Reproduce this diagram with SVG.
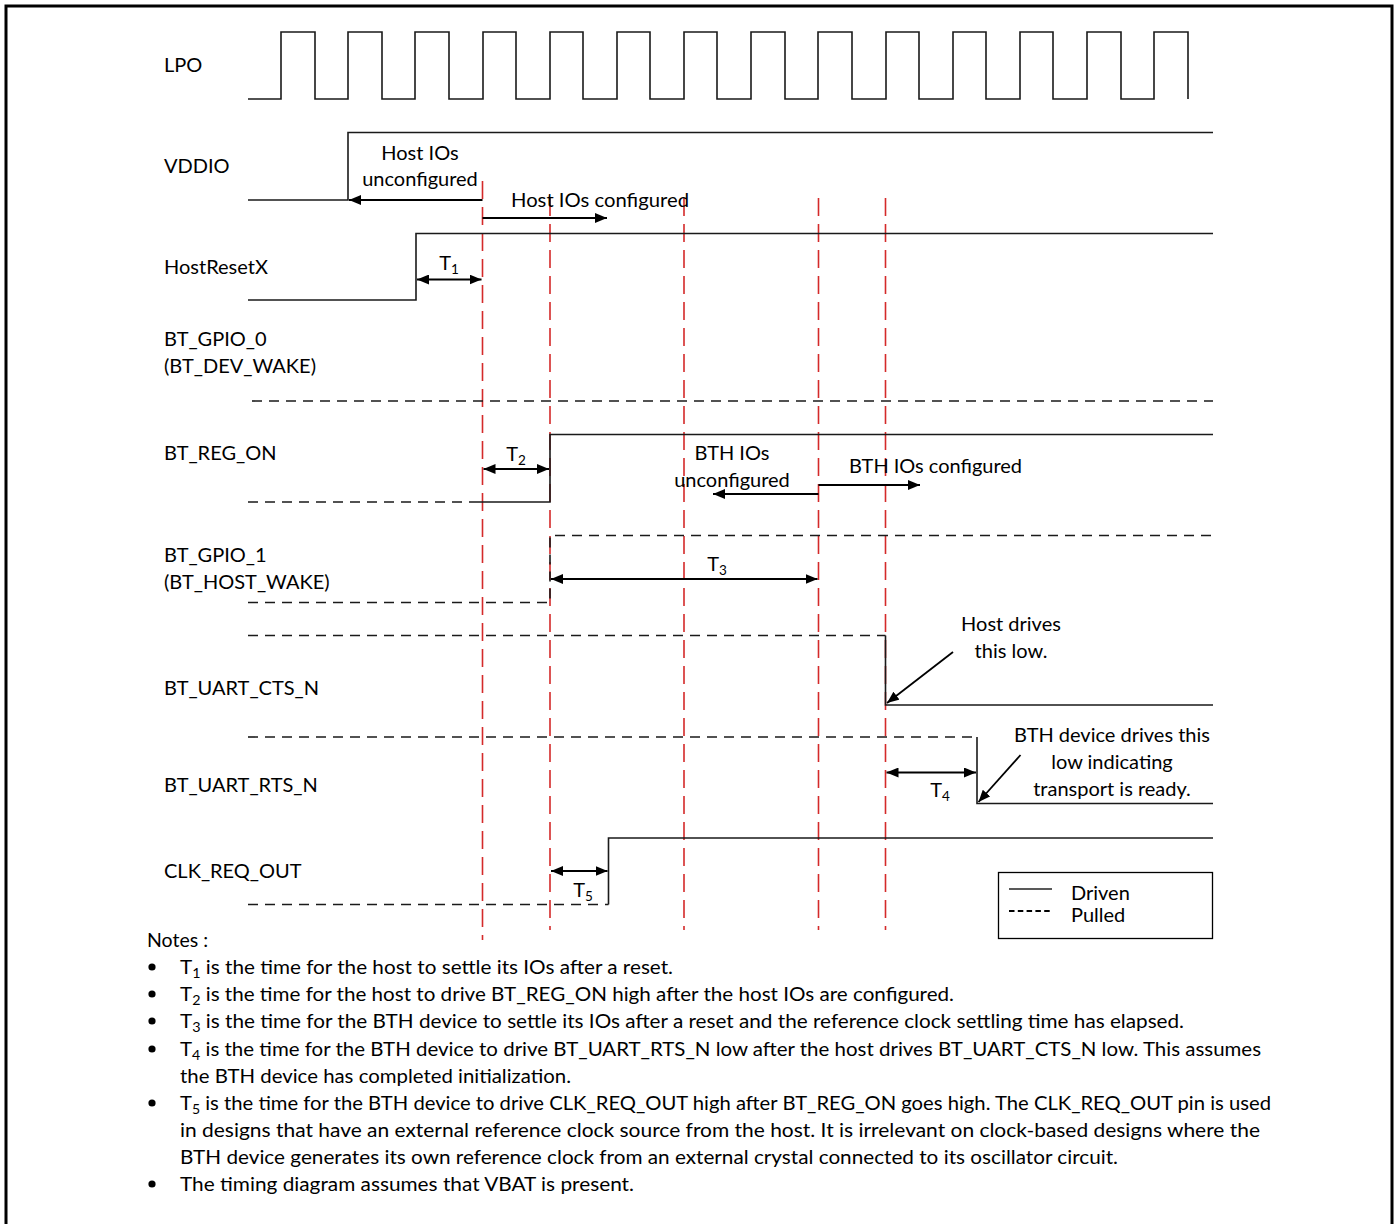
<svg xmlns="http://www.w3.org/2000/svg" width="1395" height="1224" viewBox="0 0 1395 1224">
<defs>
<marker id="ah" viewBox="0 0 12 10" refX="12" refY="5" markerWidth="12" markerHeight="10" markerUnits="userSpaceOnUse" orient="auto-start-reverse">
<path d="M0,0 L12,5 L0,10 Z" fill="#000"/>
</marker>
</defs>
<style>
text{font-family:Lato,"Open Sans","Liberation Sans",sans-serif;font-size:20px;fill:#000}
.sig{fill:none;stroke:#1a1a1a;stroke-width:1.6}
.pull{fill:none;stroke:#1a1a1a;stroke-width:1.6;stroke-dasharray:10 7}
.red{fill:none;stroke:#d42a2a;stroke-width:1.6;stroke-dasharray:18 8}
.arr{fill:none;stroke:#000;stroke-width:1.8;marker-end:url(#ah)}
.darr{fill:none;stroke:#000;stroke-width:1.8;marker-end:url(#ah);marker-start:url(#ah)}
.sub{font-size:13.5px}
.mid{text-anchor:middle}
.note{font-size:19.5px}
</style>
<rect x="6" y="6" width="1386" height="1226" fill="#fff" stroke="#000" stroke-width="3"/>

<g id="labels">
<text x="164" y="72">LPO</text>
<text x="164" y="173">VDDIO</text>
<text x="164" y="274">HostResetX</text>
<text x="164" y="346">BT_GPIO_0</text>
<text x="164" y="373">(BT_DEV_WAKE)</text>
<text x="164" y="460">BT_REG_ON</text>
<text x="164" y="562">BT_GPIO_1</text>
<text x="164" y="589">(BT_HOST_WAKE)</text>
<text x="164" y="695">BT_UART_CTS_N</text>
<text x="164" y="792">BT_UART_RTS_N</text>
<text x="164" y="878">CLK_REQ_OUT</text>
</g>

<g id="red-markers">
<line class="red" x1="482.5" y1="181" x2="482.5" y2="940"/>
<line class="red" x1="550" y1="198" x2="550" y2="930"/>
<line class="red" x1="684" y1="198" x2="684" y2="930"/>
<line class="red" x1="818.5" y1="198" x2="818.5" y2="930"/>
<line class="red" x1="885.5" y1="198" x2="885.5" y2="930"/>
</g>

<g id="LPO">
<path class="sig" d="M248,99 H281 V32 H315 V99 H348 V32 H382 V99 H415 V32 H449 V99 H483 V32 H516 V99 H550 V32 H583 V99 H617 V32 H650 V99 H684 V32 H717 V99 H751 V32 H785 V99 H818 V32 H852 V99 H886 V32 H919 V99 H953 V32 H986 V99 H1020 V32 H1053 V99 H1087 V32 H1121 V99 H1154 V32 H1188 V99"/>
</g>

<g id="VDDIO">
<path class="sig" d="M248,200 H348 V132.5 H1213"/>
<text class="mid" x="420" y="160">Host IOs</text>
<text class="mid" x="420" y="186">unconfigured</text>
<text x="511" y="207" textLength="178" lengthAdjust="spacingAndGlyphs">Host IOs configured</text>
</g>

<g id="HostResetX">
<path class="sig" d="M248,300 H416 V233.5 H1213"/>
<text class="mid" x="449" y="270">T<tspan class="sub" dy="4">1</tspan></text>
</g>

<g id="BT_GPIO_0">
<line class="pull" x1="252" y1="401" x2="1213" y2="401"/>
</g>

<g id="BT_REG_ON">
<line class="pull" x1="248" y1="502" x2="478" y2="502"/>
<path class="sig" d="M478,502 H550 V434.5 H1213"/>
<text class="mid" x="516" y="461">T<tspan class="sub" dy="4">2</tspan></text>
<text class="mid" x="732" y="460">BTH IOs</text>
<text class="mid" x="732" y="487">unconfigured</text>
<text x="849" y="473" textLength="173" lengthAdjust="spacingAndGlyphs">BTH IOs configured</text>
</g>

<g id="BT_GPIO_1">
<path class="pull" d="M248,602.5 H550 V535.5 H1213"/>
<text class="mid" x="717" y="571">T<tspan class="sub" dy="4">3</tspan></text>
</g>

<g id="BT_UART_CTS_N">
<line class="pull" x1="248" y1="635.5" x2="885.5" y2="635.5"/>
<path class="sig" d="M885.5,635.5 V705 H1213"/>
<text class="mid" x="1011" y="631">Host drives</text>
<text class="mid" x="1011" y="658">this low.</text>
</g>

<g id="BT_UART_RTS_N">
<line class="pull" x1="248" y1="737" x2="977" y2="737"/>
<path class="sig" d="M977,737 V803.5 H1213"/>
<text class="mid" x="940" y="797">T<tspan class="sub" dy="4">4</tspan></text>
<text class="mid" x="1112" y="742">BTH device drives this</text>
<text class="mid" x="1112" y="769">low indicating</text>
<text class="mid" x="1112" y="796">transport is ready.</text>
</g>

<g id="CLK_REQ_OUT">
<line class="pull" x1="248" y1="904.5" x2="608.5" y2="904.5"/>
<path class="sig" d="M608.5,904.5 V838 H1213"/>
<text class="mid" x="583" y="897">T<tspan class="sub" dy="4">5</tspan></text>
</g>

<g id="connectors">
<line class="arr" x1="482.5" y1="200" x2="349" y2="200"/>
<line class="arr" x1="482.5" y1="218" x2="607" y2="218"/>
<line class="darr" x1="417" y1="279.5" x2="481.5" y2="279.5"/>
<line class="darr" x1="483.5" y1="469" x2="549" y2="469"/>
<line class="arr" x1="818.5" y1="494" x2="713" y2="494"/>
<line class="arr" x1="818.5" y1="485" x2="920" y2="485"/>
<line class="darr" x1="551" y1="579" x2="817.5" y2="579"/>
<line class="arr" x1="953" y1="652" x2="887" y2="703"/>
<line class="darr" x1="886.5" y1="772.5" x2="976" y2="772.5"/>
<line class="arr" x1="1020.5" y1="755" x2="978.5" y2="802"/>
<line class="darr" x1="551" y1="871" x2="607.5" y2="871"/>
</g>

<g id="legend">
<rect x="998.5" y="872.5" width="214" height="66" fill="none" stroke="#000" stroke-width="1.3"/>
<line x1="1009" y1="889" x2="1052" y2="889" stroke="#222" stroke-width="1.5"/>
<line x1="1009" y1="911" x2="1052" y2="911" stroke="#000" stroke-width="1.8" stroke-dasharray="5.5 3.3"/>
<text x="1071" y="900">Driven</text>
<text x="1071" y="922">Pulled</text>
</g>

<g id="notes" class="notes">
<text class="note" x="147" y="947">Notes :</text>
<circle cx="152" cy="967" r="3.6"/>
<circle cx="152" cy="994" r="3.6"/>
<circle cx="152" cy="1021" r="3.6"/>
<circle cx="152" cy="1049" r="3.6"/>
<circle cx="152" cy="1103" r="3.6"/>
<circle cx="152" cy="1184" r="3.6"/>
<text class="note" x="180" y="974" textLength="493" lengthAdjust="spacingAndGlyphs">T<tspan class="sub" dy="4">1</tspan><tspan dy="-4"> is the time for the host to settle its IOs after a reset.</tspan></text>
<text class="note" x="180" y="1001" textLength="774" lengthAdjust="spacingAndGlyphs">T<tspan class="sub" dy="4">2</tspan><tspan dy="-4"> is the time for the host to drive BT_REG_ON high after the host IOs are configured.</tspan></text>
<text class="note" x="180" y="1028" textLength="1004" lengthAdjust="spacingAndGlyphs">T<tspan class="sub" dy="4">3</tspan><tspan dy="-4"> is the time for the BTH device to settle its IOs after a reset and the reference clock settling time has elapsed.</tspan></text>
<text class="note" x="180" y="1056" textLength="1081" lengthAdjust="spacingAndGlyphs">T<tspan class="sub" dy="4">4</tspan><tspan dy="-4"> is the time for the BTH device to drive BT_UART_RTS_N low after the host drives BT_UART_CTS_N low. This assumes</tspan></text>
<text class="note" x="180" y="1083" textLength="391" lengthAdjust="spacingAndGlyphs">the BTH device has completed initialization.</text>
<text class="note" x="180" y="1110" textLength="1091" lengthAdjust="spacingAndGlyphs">T<tspan class="sub" dy="4">5</tspan><tspan dy="-4"> is the time for the BTH device to drive CLK_REQ_OUT high after BT_REG_ON goes high. The CLK_REQ_OUT pin is used</tspan></text>
<text class="note" x="180" y="1137" textLength="1080" lengthAdjust="spacingAndGlyphs">in designs that have an external reference clock source from the host.  It is irrelevant on clock-based designs where the</text>
<text class="note" x="180" y="1164" textLength="938" lengthAdjust="spacingAndGlyphs">BTH device generates its own reference clock from an external crystal connected to its oscillator circuit.</text>
<text class="note" x="180" y="1191" textLength="454" lengthAdjust="spacingAndGlyphs">The timing diagram assumes that VBAT is present.</text>
</g>
</svg>
